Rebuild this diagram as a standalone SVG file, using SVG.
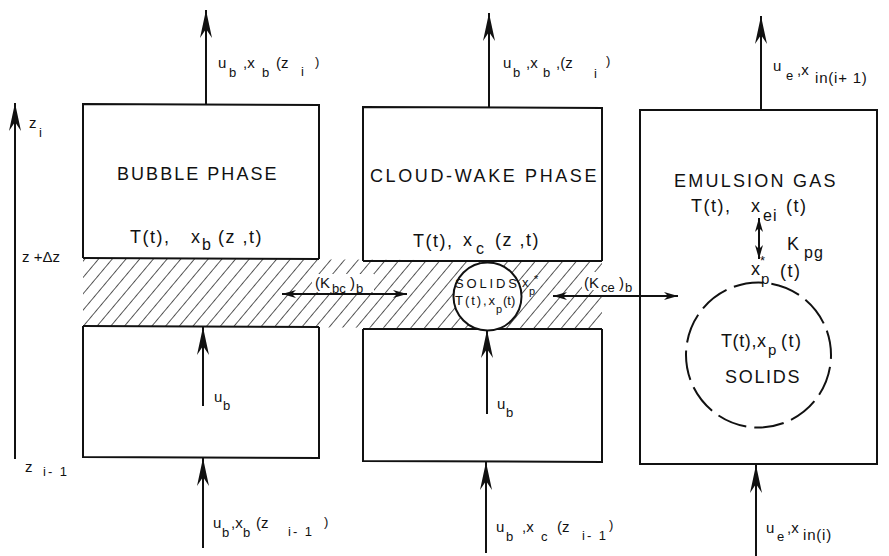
<svg xmlns="http://www.w3.org/2000/svg" width="889" height="556" viewBox="0 0 889 556">
<style>
.ln{stroke:#111;stroke-width:2;fill:none}
.bx{stroke:#111;stroke-width:2;fill:none}
text{font-family:"Liberation Sans","DejaVu Sans",sans-serif;fill:#111}
.t18{font-size:18px;letter-spacing:1.5px}
.t15{font-size:15px}
.t13{font-size:13px}
.t12{font-size:12px}
.sub{font-size:13px}
</style>
<defs>
<marker id="ah" viewBox="0 0 28 12" refX="28" refY="6" markerWidth="28" markerHeight="12" markerUnits="userSpaceOnUse" orient="auto-start-reverse"><path d="M0,0 L28,6 L0,12 L9,6 Z" fill="#111"/></marker>
<marker id="sh" viewBox="0 0 14 8" refX="14" refY="4" markerWidth="14" markerHeight="8" markerUnits="userSpaceOnUse" orient="auto-start-reverse"><path d="M0,0 L14,4 L0,8 L4,4 Z" fill="#111"/></marker>
<pattern id="hatch" width="10.5" height="10.5" patternUnits="userSpaceOnUse" patternTransform="rotate(40)"><line x1="0" y1="0" x2="0" y2="10.5" stroke="#111" stroke-width="1.4"/></pattern>
</defs>
<rect width="889" height="556" fill="#fff"/>

<g id="hatched-band">
<polygon points="83,258 602,261 602,329 83,326" fill="url(#hatch)"/>
<rect x="312" y="274" width="62" height="18" fill="#fff"/>
<rect x="582" y="272" width="20" height="18" fill="#fff"/>
</g>

<g id="bubble-phase">
<polyline class="bx" points="83,258 83,104 319,105 319,259"/>
<line class="bx" x1="83" y1="258" x2="319" y2="259"/>
<text class="t18" x="117" y="180" textLength="161" lengthAdjust="spacing">BUBBLE PHASE</text>
<text class="t18" x="130" y="243">T(t),</text>
<text class="t18" x="191" y="243">x</text>
<text x="202" y="250" font-size="16">b</text>
<text class="t18" x="218" y="243">(z ,t)</text>
</g>

<g id="bubble-lower">
<polyline class="bx" points="83,326 83,457 319,458 319,327"/>
<line class="bx" x1="83" y1="326" x2="319" y2="327"/>
<text class="t15" x="214" y="402">u</text>
<text class="t13" x="223" y="410">b</text>
</g>

<g id="cloud-wake-phase">
<polyline class="bx" points="363,261 363,107 602,108 602,261"/>
<line class="bx" x1="363" y1="261" x2="602" y2="261"/>
<text class="t18" x="370" y="182" textLength="228" lengthAdjust="spacing">CLOUD-WAKE PHASE</text>
<text class="t18" x="413" y="247">T(t),</text>
<text class="t18" x="463" y="246">x</text>
<text x="476" y="254" font-size="16">c</text>
<text class="t18" x="495" y="246">(z ,t)</text>
</g>

<g id="cloud-lower">
<polyline class="bx" points="363,329 363,461 602,462 602,329"/>
<line class="bx" x1="363" y1="329" x2="602" y2="329"/>
<text class="t15" x="497" y="409">u</text>
<text class="t13" x="506" y="417">b</text>
</g>

<g id="cloud-solids">
<circle cx="487.5" cy="296.5" r="34" fill="#fff" stroke="#111" stroke-width="2"/>
<text x="455" y="288" font-size="13" textLength="62" lengthAdjust="spacing">SOLIDS</text>
<text x="522" y="287" font-size="13">x</text>
<text x="529" y="295" font-size="11">p</text>
<text x="534" y="283" font-size="11">*</text>
<text x="455" y="305" font-size="13" textLength="40" lengthAdjust="spacing">T(t),x</text>
<text x="496" y="313" font-size="11">p</text>
<text x="503" y="305" font-size="13">(t)</text>
</g>

<g id="emulsion-gas">
<rect class="bx" x="640" y="110" width="237" height="354"/>
<text class="t18" x="674" y="187" textLength="163" lengthAdjust="spacing">EMULSION GAS</text>
<text class="t18" x="691" y="212">T(t),</text>
<text class="t18" x="751" y="212">x</text>
<text x="763" y="221" font-size="16" letter-spacing="1">ei</text>
<text class="t18" x="786" y="212">(t)</text>
<text class="t18" x="787" y="250">K</text>
<text x="804" y="258" font-size="16" letter-spacing="1">pg</text>
<text class="t18" x="751" y="275">x</text>
<text x="760" y="265" font-size="13">*</text>
<text x="761" y="284" font-size="15">p</text>
<text class="t18" x="780" y="277">(t)</text>
</g>

<g id="emulsion-solids">
<circle cx="758.5" cy="355" r="72.5" fill="none" stroke="#111" stroke-width="2" stroke-dasharray="30 8" stroke-dashoffset="-12"/>
<text x="721" y="347" font-size="18" letter-spacing="0.6">T(t),x</text>
<text x="768" y="355" font-size="15">p</text>
<text class="t18" x="781" y="347">(t)</text>
<text class="t18" x="725" y="383" textLength="76" lengthAdjust="spacing">SOLIDS</text>
</g>

<g id="axis">
<text class="t15" x="29" y="128">z</text>
<text class="t13" x="39" y="137">i</text>
<text class="t15" x="22" y="262">z +Δz</text>
<text class="t15" x="25" y="472">z</text>
<text class="t13" x="43" y="476" letter-spacing="2">i- 1</text>
</g>

<g id="flow-labels">
<text class="t15" x="218" y="68">u</text>
<text class="t13" x="229" y="77">b</text>
<text class="t15" x="243" y="68">,x</text>
<text class="t13" x="262" y="77">b</text>
<text class="t15" x="276" y="68">(z</text>
<text class="t13" x="301" y="76">i</text>
<text class="t13" x="315" y="66">)</text>

<text class="t15" x="503" y="68">u</text>
<text class="t13" x="513" y="77">b</text>
<text class="t15" x="526" y="68">,x</text>
<text class="t13" x="543" y="77">b</text>
<text class="t15" x="556" y="68">,(z</text>
<text class="t13" x="594" y="78">i</text>
<text class="t13" x="606" y="65">)</text>

<text class="t15" x="773" y="71">u</text>
<text class="t13" x="786" y="80">e</text>
<text class="t15" x="797" y="75">,x</text>
<text class="t15" x="815" y="83" letter-spacing="0.8">in(i+ 1)</text>

<text class="t15" x="213" y="528">u</text>
<text class="t13" x="222" y="537">b</text>
<text class="t15" x="231" y="528">,x</text>
<text class="t13" x="243" y="537">b</text>
<text class="t15" x="256" y="528">(z</text>
<text class="t13" x="288" y="536" letter-spacing="2">i- 1</text>
<text class="t13" x="324" y="526">)</text>

<text class="t15" x="496" y="532">u</text>
<text class="t13" x="506" y="541">b</text>
<text class="t15" x="522" y="532">,x</text>
<text class="t13" x="541" y="541">c</text>
<text class="t15" x="557" y="532">(z</text>
<text class="t13" x="582" y="540" letter-spacing="2">i- 1</text>
<text class="t13" x="609" y="529">)</text>

<text class="t15" x="766" y="533">u</text>
<text class="t13" x="777" y="541">e</text>
<text class="t15" x="787" y="533">,x</text>
<text class="t15" x="803" y="540" letter-spacing="0.8">in(i)</text>

<text class="t15" x="315" y="288">(K</text>
<text class="t13" x="332" y="293">bc</text>
<text class="t15" x="350" y="288">)</text>
<text class="t13" x="356" y="293">b</text>

<text class="t15" x="584" y="288">(K</text>
<text class="t13" x="601" y="292">ce</text>
<text class="t15" x="619" y="288">)</text>
<text class="t13" x="625" y="292">b</text>
</g>

<g id="connectors">
<line class="ln" x1="206" y1="104" x2="206" y2="10" marker-end="url(#ah)"/>
<line class="ln" x1="489" y1="107" x2="489" y2="13" marker-end="url(#ah)"/>
<line class="ln" x1="761" y1="110" x2="761" y2="16" marker-end="url(#ah)"/>
<line class="ln" x1="203" y1="548" x2="203" y2="458" marker-end="url(#ah)"/>
<line class="ln" x1="486" y1="553" x2="486" y2="462" marker-end="url(#ah)"/>
<line class="ln" x1="756" y1="556" x2="756" y2="465" marker-end="url(#ah)"/>
<line class="ln" x1="203" y1="406" x2="203" y2="327" marker-end="url(#ah)"/>
<line class="ln" x1="487" y1="414" x2="487" y2="330" marker-end="url(#ah)"/>
<line class="ln" x1="15" y1="459" x2="15" y2="103" marker-end="url(#ah)"/>
<line class="ln" x1="282" y1="294" x2="407" y2="294" marker-start="url(#sh)" marker-end="url(#sh)"/>
<line class="ln" x1="553" y1="296" x2="678" y2="296" marker-start="url(#sh)" marker-end="url(#sh)"/>
<line class="ln" x1="759" y1="218" x2="759" y2="259" stroke-width="1.5" marker-start="url(#sh)" marker-end="url(#sh)"/>
</g>
</svg>
